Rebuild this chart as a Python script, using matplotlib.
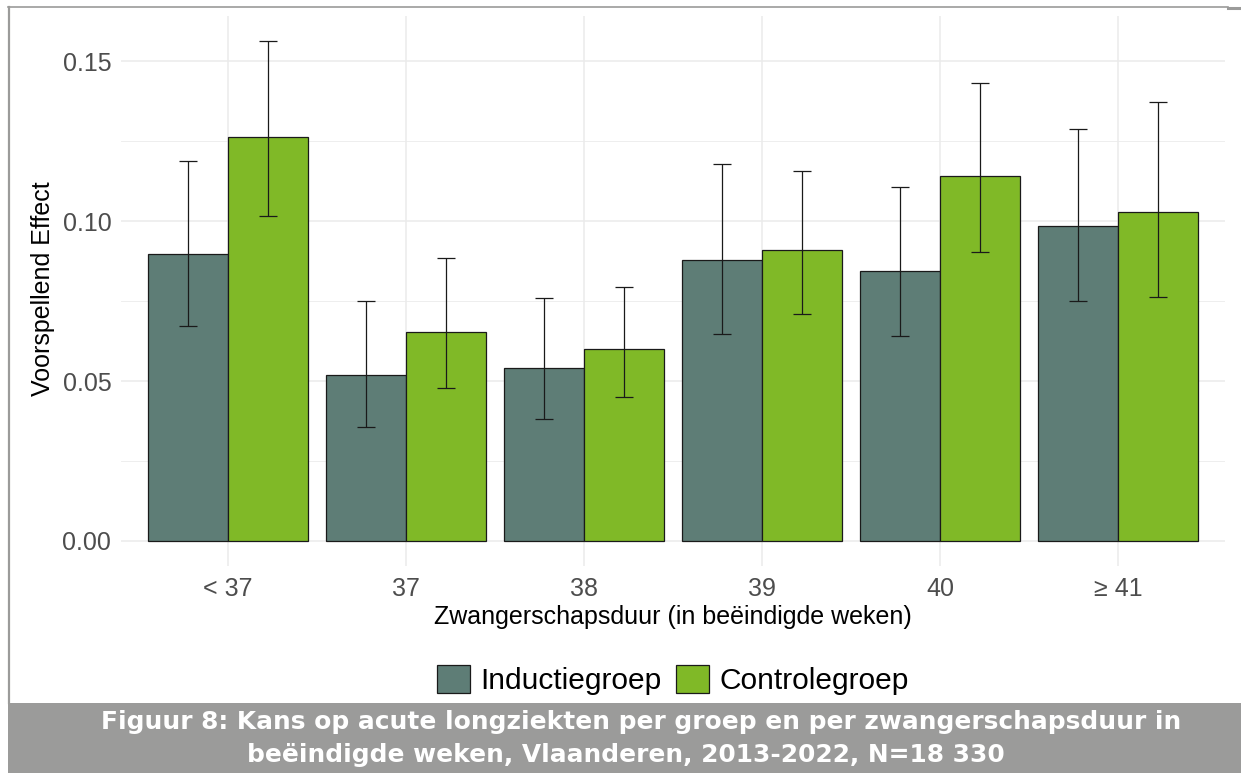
import matplotlib
matplotlib.use("Agg")
import matplotlib.pyplot as plt
from matplotlib.patches import Patch, Rectangle
from matplotlib.lines import Line2D
import numpy as np

# Gestational age categories (completed weeks)
categories = ["< 37", "37", "38", "39", "40", "\u2265 41"]
groups = ["Inductiegroep", "Controlegroep"]

# Predicted effect per group, with lower / upper confidence bounds
induction = [0.0897, 0.0519, 0.0541, 0.0878, 0.0844, 0.0984]
induction_lo = [0.0672, 0.0356, 0.0381, 0.0647, 0.0641, 0.0750]
induction_hi = [0.1188, 0.0750, 0.0759, 0.1178, 0.1106, 0.1288]

control = [0.1263, 0.0653, 0.0600, 0.0909, 0.1141, 0.1028]
control_lo = [0.1016, 0.0478, 0.0450, 0.0709, 0.0903, 0.0763]
control_hi = [0.1563, 0.0884, 0.0794, 0.1156, 0.1431, 0.1372]

yticks = [0.00, 0.05, 0.10, 0.15]
ytick_labels = ["0.00", "0.05", "0.10", "0.15"]

caption_lines = [
    "Figuur 8: Kans op acute longziekten per groep en per zwangerschapsduur in",
    "be\u00ebindigde weken, Vlaanderen, 2013-2022, N=18 330",
]

COL_IND = "#5e7d76"
COL_CTRL = "#80b927"
GRID = "#ebebeb"
TICK_COL = "#4d4d4d"
CAPTION_BG = "#9b9b9a"

W, H = 1241, 773
fig = plt.figure(figsize=(W / 100, H / 100), dpi=100)
fig.patch.set_facecolor("white")

def fx(px):
    return px / W

def fy(py):
    return 1 - py / H

left, right, top, bottom = 121, 1225, 16, 566
ax = fig.add_axes([fx(left), fy(bottom), fx(right) - fx(left), fy(top) - fy(bottom)])

x = np.arange(1, len(categories) + 1)
bw = 0.45

ind_err = [np.array(induction) - np.array(induction_lo), np.array(induction_hi) - np.array(induction)]
ctrl_err = [np.array(control) - np.array(control_lo), np.array(control_hi) - np.array(control)]

ax.bar(x - bw / 2, induction, width=bw, color=COL_IND, edgecolor="#1a1a1a", linewidth=0.9, zorder=3)
ax.bar(x + bw / 2, control, width=bw, color=COL_CTRL, edgecolor="#1a1a1a", linewidth=0.9, zorder=3)
ax.errorbar(x - bw / 2, induction, yerr=ind_err, fmt="none", ecolor="#1a1a1a",
            elinewidth=0.9, capsize=6.5, capthick=0.9, zorder=4)
ax.errorbar(x + bw / 2, control, yerr=ctrl_err, fmt="none", ecolor="#1a1a1a",
            elinewidth=0.9, capsize=6.5, capthick=0.9, zorder=4)

ymax = max(control_hi + induction_hi)
pad = 0.05 * ymax
ax.set_ylim(-pad, ymax + pad)
ax.set_xlim(0.4, len(categories) + 0.6)

ax.set_yticks(yticks)
ax.set_yticklabels(ytick_labels)
ax.set_yticks([0.025, 0.075, 0.125], minor=True)
ax.set_xticks(x)
ax.set_xticklabels(categories)

ax.grid(True, which="major", color=GRID, linewidth=1.1, zorder=0)
ax.grid(True, which="minor", axis="y", color=GRID, linewidth=0.6, zorder=0)
ax.set_axisbelow(True)
for s in ax.spines.values():
    s.set_visible(False)
ax.tick_params(axis="both", which="both", length=0, labelsize=18, labelcolor=TICK_COL,
               labelfontfamily="Liberation Sans")
ax.tick_params(axis="y", pad=7)
ax.tick_params(axis="x", pad=8)

fig.text(fx(673), fy(617), "Zwangerschapsduur (in be\u00ebindigde weken)", ha="center", va="center",
         fontsize=18, family="Liberation Sans", color="black")
fig.text(fx(43), fy(289), "Voorspellend Effect", ha="center", va="center", rotation=90,
         fontsize=18, family="Liberation Sans", color="black")

handles = [Patch(facecolor=COL_IND, edgecolor="#1a1a1a", linewidth=0.9),
           Patch(facecolor=COL_CTRL, edgecolor="#1a1a1a", linewidth=0.9)]
fig.legend(handles, groups, loc="center", bbox_to_anchor=(fx(673), fy(680)), ncol=2,
           frameon=False, prop={"family": "Liberation Sans", "size": 21.5},
           handlelength=1.1, handleheight=1.1, handletextpad=0.35, columnspacing=0.5)

# Caption band and frame
fig.add_artist(Rectangle((fx(8), 0), 1 - fx(8), fy(703), transform=fig.transFigure,
                         facecolor=CAPTION_BG, edgecolor="none", zorder=0))
fig.add_artist(Line2D([fx(9), fx(9)], [fy(703), fy(7)], transform=fig.transFigure,
                      color=CAPTION_BG, linewidth=1.6))
fig.add_artist(Line2D([fx(8), fx(1228)], [fy(7), fy(7)], transform=fig.transFigure,
                      color=CAPTION_BG, linewidth=1.2))
fig.add_artist(Line2D([fx(1228), 1], [fy(8), fy(8)], transform=fig.transFigure,
                      color=CAPTION_BG, linewidth=2.2))

fig.text(fx(641), fy(722), caption_lines[0], ha="center", va="center", color="white",
         fontsize=17.9, family="DejaVu Sans", fontweight="bold")
fig.text(fx(626), fy(755), caption_lines[1], ha="center", va="center", color="white",
         fontsize=17.9, family="DejaVu Sans", fontweight="bold")

fig.savefig("out.png", dpi=100, facecolor="white")
